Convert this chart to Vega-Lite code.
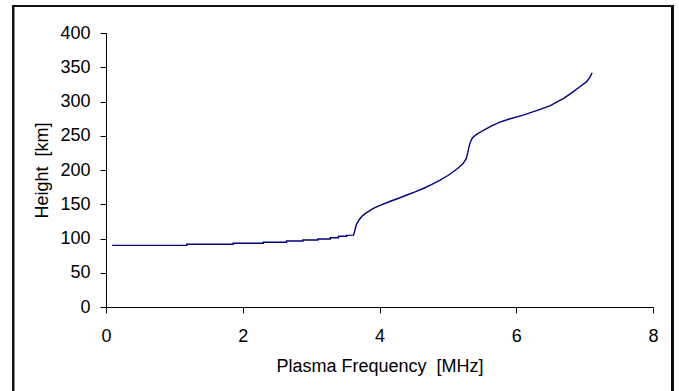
{
  "$schema": "https://vega.github.io/schema/vega-lite/v6.json",
  "width": 547,
  "height": 274,
  "autosize": {"type": "none"},
  "padding": {"left": 106, "top": 33, "right": 26, "bottom": 84},
  "background": "white",
  "config": {
    "view": {"stroke": null},
    "font": "Liberation Sans",
    "axis": {
      "grid": false,
      "domainColor": "black",
      "tickColor": "black",
      "tickSize": 6,
      "labelColor": "black",
      "titleColor": "black",
      "labelFont": "Liberation Sans",
      "titleFont": "Liberation Sans",
      "labelFontSize": 18,
      "titleFontSize": 18,
      "titleFontWeight": "normal"
    }
  },
  "data": {
    "values": [
      {"f": 0.09, "h": 90}, {"f": 1.18, "h": 90},
      {"f": 1.18, "h": 91.5}, {"f": 1.86, "h": 91.5},
      {"f": 1.86, "h": 93}, {"f": 2.30, "h": 93},
      {"f": 2.30, "h": 94.5}, {"f": 2.64, "h": 94.5},
      {"f": 2.64, "h": 96.4}, {"f": 2.88, "h": 96.4},
      {"f": 2.88, "h": 97.8}, {"f": 3.10, "h": 97.8},
      {"f": 3.10, "h": 99.3}, {"f": 3.28, "h": 99.3},
      {"f": 3.28, "h": 101.2}, {"f": 3.40, "h": 101.2},
      {"f": 3.40, "h": 103.2}, {"f": 3.52, "h": 103.2},
      {"f": 3.52, "h": 104.5}, {"f": 3.62, "h": 105},
      {"f": 3.64, "h": 112}, {"f": 3.66, "h": 120}, {"f": 3.70, "h": 127},
      {"f": 3.74, "h": 132}, {"f": 3.80, "h": 137}, {"f": 3.91, "h": 144},
      {"f": 4.00, "h": 148}, {"f": 4.15, "h": 154}, {"f": 4.30, "h": 159.5},
      {"f": 4.40, "h": 163.5}, {"f": 4.52, "h": 168}, {"f": 4.64, "h": 173},
      {"f": 4.76, "h": 178.5}, {"f": 4.88, "h": 185}, {"f": 5.00, "h": 192},
      {"f": 5.08, "h": 197.5}, {"f": 5.15, "h": 203}, {"f": 5.22, "h": 209},
      {"f": 5.27, "h": 217}, {"f": 5.29, "h": 225}, {"f": 5.31, "h": 234},
      {"f": 5.33, "h": 241}, {"f": 5.36, "h": 247}, {"f": 5.42, "h": 252},
      {"f": 5.52, "h": 258}, {"f": 5.64, "h": 264.5}, {"f": 5.76, "h": 270},
      {"f": 5.90, "h": 274.5}, {"f": 6.10, "h": 280}, {"f": 6.35, "h": 288.5},
      {"f": 6.50, "h": 294}, {"f": 6.59, "h": 299}, {"f": 6.70, "h": 305},
      {"f": 6.83, "h": 314}, {"f": 6.93, "h": 321.5}, {"f": 7.03, "h": 329},
      {"f": 7.08, "h": 336}, {"f": 7.11, "h": 342}
    ]
  },
  "layer": [
    {
      "mark": {"type": "line", "color": "#000080", "strokeWidth": 1.4},
      "encoding": {
        "x": {
          "field": "f",
          "type": "quantitative",
          "scale": {"domain": [0, 8], "nice": false, "zero": false},
          "axis": {
            "title": "Plasma Frequency \u00a0[MHz]",
            "values": [0, 2, 4, 6, 8],
            "format": "d",
            "labelOverlap": false,
            "labelPadding": 14,
            "titlePadding": 12,
            "labelFlush": false
          }
        },
        "y": {
          "field": "h",
          "type": "quantitative",
          "scale": {"domain": [0, 400], "nice": false},
          "axis": {
            "title": "Height \u00a0[km]",
            "values": [0, 50, 100, 150, 200, 250, 300, 350, 400],
            "format": "d",
            "labelOverlap": false,
            "labelBound": false,
            "labelPadding": 10,
            "titlePadding": 8
          }
        }
      }
    },
    {
      "mark": {"type": "rect", "fill": null, "stroke": "#111111", "strokeWidth": 2, "clip": false},
      "encoding": {
        "x": {
          "datum": -1.36,
          "type": "quantitative",
          "scale": {"domain": [0, 8], "nice": false, "zero": false},
          "axis": {
            "title": "Plasma Frequency \u00a0[MHz]",
            "values": [0, 2, 4, 6, 8],
            "format": "d",
            "labelOverlap": false,
            "labelPadding": 14,
            "titlePadding": 12,
            "labelFlush": false
          }
        },
        "x2": {"datum": 8.29},
        "y": {
          "datum": 439.4,
          "type": "quantitative",
          "scale": {"domain": [0, 400], "nice": false},
          "axis": {
            "title": "Height \u00a0[km]",
            "values": [0, 50, 100, 150, 200, 250, 300, 350, 400],
            "format": "d",
            "labelOverlap": false,
            "labelBound": false,
            "labelPadding": 10,
            "titlePadding": 8
          }
        },
        "y2": {"datum": -124}
      }
    }
  ]
}
